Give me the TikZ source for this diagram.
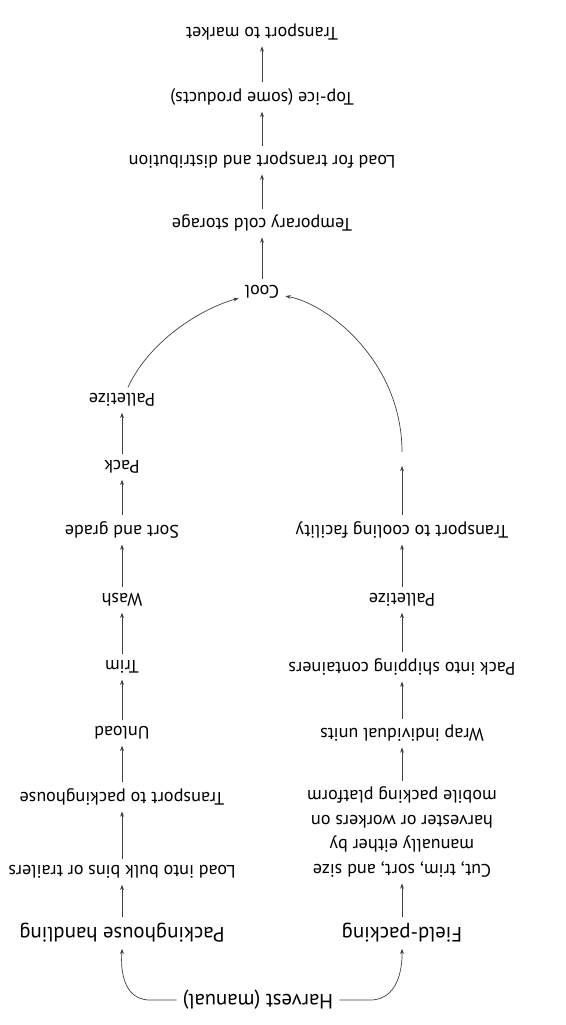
\documentclass[tikz,border=0pt]{standalone}
\usepackage{fontspec}
\setmainfont{PT Sans}
\usetikzlibrary{arrows.meta}

\begin{document}
\begin{tikzpicture}[x=0.02cm,y=-0.02cm,
  every node/.style={rotate=180,font=\fontsize{10.3}{14}\selectfont},
  big/.style={font=\fontsize{11.8}{14}\selectfont},
  >={Stealth[length=3pt,width=2.2pt]},
  flow/.style={->,line width=0.4pt,black!75}]

  % Columns
  \def\colL{122}
  \def\colM{262}
  \def\colR{402}

  \useasboundingbox (0,0) rectangle (565,1025);

  % Shared path
  \node (market) at (\colM,32)  {Transport to market};
  \node (topice) at (\colM,97)  {Top-ice (some products)};
  \node (loadtd) at (\colM,160) {Load for transport and distribution};
  \node (coldst) at (\colM,223) {Temporary cold storage};
  \node (cool)   at (\colM,292) {Cool};

  % Packinghouse handling
  \node (palL)    at (\colL,400) {Palletize};
  \node (packL)   at (\colL,467) {Pack};
  \node (sortL)   at (\colL,530) {Sort and grade};
  \node (washL)   at (\colL,600) {Wash};
  \node (trimL)   at (\colL,667) {Trim};
  \node (unloadL) at (\colL,733) {Unload};
  \node (transPH) at (\colL,797) {Transport to packinghouse};
  \node (loadBB)  at (\colL,872) {Load into bulk bins or trailers};
  \node[big] (phh) at (\colL,933) {Packinghouse handling};

  % Field-packing
  \node (transCF) at (\colR,530) {Transport to cooling facility};
  \node (palR)    at (\colR,600) {Palletize};
  \node (packSC)  at (\colR,667) {Pack into shipping containers};
  \node (wrap)    at (\colR,733) {Wrap individual units};
  \node[align=center] (cuttrim) at (\colR,832)
    {Cut, trim, sort, and size\\manually either by\\harvester or workers on\\mobile packing platform};
  \node[big] (fieldp) at (\colR,933) {Field-packing};

  \node[big] (harvest) at (258,1000) {Harvest (manual)};

  % Harvest split
  \draw[flow] (harvest.east) -- (150,1000) to[out=180,in=-90] (phh);
  \draw[flow] (harvest.west) -- (370,1000) to[out=0,in=-90] (fieldp);

  % Left chain
  \draw[flow] (phh) -- (loadBB);
  \draw[flow] (loadBB) -- (transPH);
  \draw[flow] (transPH) -- (unloadL);
  \draw[flow] (unloadL) -- (trimL);
  \draw[flow] (trimL) -- (washL);
  \draw[flow] (washL) -- (sortL);
  \draw[flow] (sortL) -- (packL);
  \draw[flow] (packL) -- (palL);
  \draw[flow] (palL) to[out=65,in=195] (cool);

  % Right chain
  \coordinate (tcfend) at (\colR,466);
  \coordinate (arcR)   at (\colR,452);
  \draw[flow] (fieldp) -- (cuttrim);
  \draw[flow] (cuttrim) -- (wrap);
  \draw[flow] (wrap) -- (packSC);
  \draw[flow] (packSC) -- (palR);
  \draw[flow] (palR) -- (transCF);
  \draw[flow] (transCF) -- (tcfend);
  \draw[flow] (arcR) to[out=90,in=-10] (cool);

  % Top chain
  \draw[flow] (cool) -- (coldst);
  \draw[flow] (coldst) -- (loadtd);
  \draw[flow] (loadtd) -- (topice);
  \draw[flow] (topice) -- (market);

\end{tikzpicture}
\end{document}
